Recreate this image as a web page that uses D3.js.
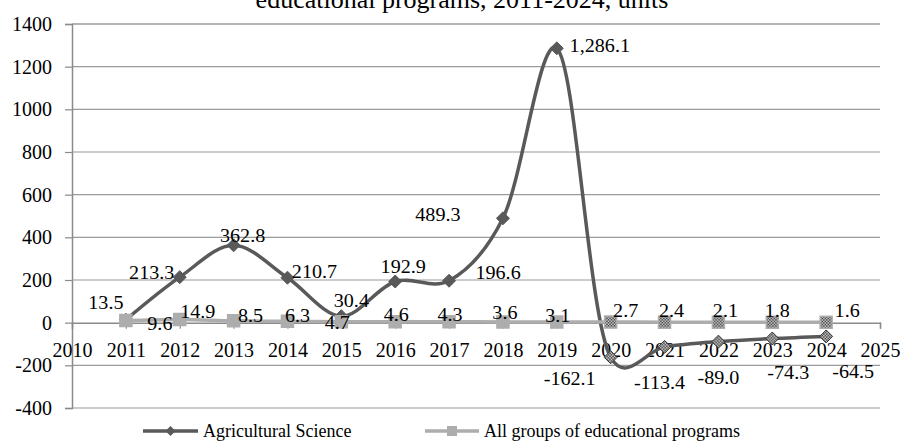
<!DOCTYPE html>
<html>
<head>
<meta charset="utf-8">
<script src="https://cdn.jsdelivr.net/npm/d3@7"></script>
<style>
  html, body { margin: 0; padding: 0; background: #fff; }
  svg { display: block; }
  svg text { font-family: "Liberation Serif", "Times New Roman", serif; }
</style>
</head>
<body>
<svg id="chart" width="901" height="441"></svg>
<script>
// Yearly growth figures, units
const years = [2011, 2012, 2013, 2014, 2015, 2016, 2017, 2018, 2019, 2020, 2021, 2022, 2023, 2024];
const agricultural = [13.5, 213.3, 362.8, 210.7, 30.4, 192.9, 196.6, 489.3, 1286.1, -162.1, -113.4, -89.0, -74.3, -64.5];
const allGroups = [9.6, 14.9, 8.5, 6.3, 4.7, 4.6, 4.3, 3.6, 3.1, 2.7, 2.4, 2.1, 1.8, 1.6];
const yTicks = [-400, -200, 0, 200, 400, 600, 800, 1000, 1200, 1400];
const xTicks = [2010, 2011, 2012, 2013, 2014, 2015, 2016, 2017, 2018, 2019, 2020, 2021, 2022, 2023, 2024, 2025];
const seriesNames = ["Agricultural Science", "All groups of educational programs"];
const titleText = "educational programs, 2011-2024, units";
const forecastFrom = 2020;

// Label placement (pixel offsets of each value label from its marker)
const agriLabelOffset = [[-20, -17], [-28, -5], [9, -10], [27, -6], [10, -16], [8, -15], [49, -8],
  [-65, -4], [43, -3], [-41, 21], [-5, 35], [0, 36], [16, 34], [27, 35]];
const allLabelOffset = [[34, 3], [18, -8], [17, -6], [10, -6], [-4, 1], [1, -7], [1, -7],
  [2, -10], [1, -7], [15, -12], [7, -12], [7, -12], [5, -12], [21, -12]];

const svg = d3.select("#chart");
const x = d3.scaleLinear().domain([2010, 2025]).range([72, 880]);
const y = d3.scaleLinear().domain([-400, 1400]).range([408, 24]);

const fmt = d3.formatLocale({decimal: ".", thousands: ",", grouping: [3], currency: ["", ""], minus: "-"}).format(",.1f");

// checkerboard fill for forecast markers
const defs = svg.append("defs");
const pat = defs.append("pattern").attr("id", "checker").attr("patternUnits", "userSpaceOnUse")
  .attr("width", 3).attr("height", 3);
pat.append("rect").attr("width", 3).attr("height", 3).attr("fill", "#fff");
pat.append("rect").attr("width", 1.5).attr("height", 1.5).attr("fill", "#111");
pat.append("rect").attr("x", 1.5).attr("y", 1.5).attr("width", 1.5).attr("height", 1.5).attr("fill", "#111");

// title (runs off the top edge)
svg.append("text").attr("x", 462).attr("y", 8).attr("text-anchor", "middle")
  .attr("font-size", 26).attr("fill", "#000").text(titleText);

// horizontal gridlines
svg.append("g").selectAll("line").data(yTicks.filter(d => d !== 0)).join("line")
  .attr("x1", 72).attr("x2", 880)
  .attr("y1", d => y(d)).attr("y2", d => y(d))
  .attr("stroke", d => d === 1400 ? "#b4b4b4" : "#9a9a9a")
  .attr("stroke-width", d => d === 1400 ? 2 : 1.2);

// value axis
const yAxis = svg.append("g").attr("transform", "translate(72,0)")
  .call(d3.axisLeft(y).tickValues(yTicks).tickSize(7).tickPadding(13).tickFormat(d => String(d)));
yAxis.attr("font-family", null);
yAxis.select(".domain").attr("stroke", "#8a8a8a").attr("stroke-width", 1.5);
yAxis.selectAll(".tick line").attr("stroke", "#8a8a8a").attr("stroke-width", 1.2);
yAxis.selectAll(".tick text").attr("font-size", 20).attr("fill", "#000");

// year axis along zero
const xAxis = svg.append("g").attr("transform", `translate(0,${y(0)})`)
  .call(d3.axisBottom(x).tickValues(xTicks).tickSize(6).tickPadding(14).tickFormat(d => String(d)));
xAxis.attr("font-family", null);
xAxis.select(".domain").attr("stroke", "#8a8a8a").attr("stroke-width", 1.5);
xAxis.selectAll(".tick line").attr("stroke", "#8a8a8a").attr("stroke-width", 1.2);
xAxis.selectAll(".tick text").attr("font-size", 20).attr("fill", "#000");

const line = d3.line().x(d => x(d[0])).y(d => y(d[1])).curve(d3.curveCatmullRom.alpha(0.2));

const diamond = r => `M0,${-r}L${r},0L0,${r}L${-r},0Z`;
const square = r => `M${-r},${-r}H${r}V${r}H${-r}Z`;

const agriColor = "#595959";
const allColor = "#adadad";

// Agricultural Science
const agriPts = years.map((yr, i) => [yr, agricultural[i]]);
svg.append("path").attr("d", line(agriPts)).attr("fill", "none")
  .attr("stroke", agriColor).attr("stroke-width", 3.5);
svg.append("g").selectAll("path").data(agriPts).join("path")
  .attr("transform", d => `translate(${x(d[0])},${y(d[1])})`)
  .attr("d", diamond(6.5))
  .attr("fill", d => d[0] >= forecastFrom ? "url(#checker)" : agriColor)
  .attr("stroke", d => d[0] >= forecastFrom ? "#333" : agriColor)
  .attr("stroke-width", 1);

// All groups of educational programs
const allPts = years.map((yr, i) => [yr, allGroups[i]]);
svg.append("path").attr("d", line(allPts)).attr("fill", "none")
  .attr("stroke", allColor).attr("stroke-width", 3.5);
svg.append("g").selectAll("path").data(allPts).join("path")
  .attr("transform", d => `translate(${x(d[0])},${y(d[1])})`)
  .attr("d", square(6))
  .attr("fill", d => d[0] >= forecastFrom ? "url(#checker)" : allColor)
  .attr("stroke", allColor)
  .attr("stroke-width", 1.5);

// value labels
const labelG = svg.append("g").attr("font-size", 19).attr("fill", "#000")
  .attr("text-anchor", "middle");
labelG.selectAll("text.agri").data(agriPts).join("text").attr("class", "agri")
  .attr("transform", (d, i) => `translate(${x(d[0]) + agriLabelOffset[i][0]},${y(d[1]) + agriLabelOffset[i][1]}) scale(1.06,1)`)
  .attr("dy", "0.35em").text(d => fmt(d[1]));
labelG.selectAll("text.all").data(allPts).join("text").attr("class", "all")
  .attr("transform", (d, i) => `translate(${x(d[0]) + allLabelOffset[i][0]},${y(d[1]) + allLabelOffset[i][1]}) scale(1.06,1)`)
  .attr("dy", "0.35em").text(d => fmt(d[1]));

// legend
const legend = svg.append("g").attr("font-size", 18).attr("fill", "#000");
const legendItems = [
  {name: seriesNames[0], color: agriColor, shape: diamond(5), x0: 143, x1: 198, text: 203},
  {name: seriesNames[1], color: allColor, shape: square(5), x0: 425, x1: 479, text: 484}
];
const ly = 431;
legendItems.forEach(it => {
  legend.append("line").attr("x1", it.x0).attr("x2", it.x1).attr("y1", ly).attr("y2", ly)
    .attr("stroke", it.color).attr("stroke-width", 3.5);
  legend.append("path").attr("transform", `translate(${(it.x0 + it.x1) / 2},${ly})`)
    .attr("d", it.shape).attr("fill", it.color);
  legend.append("text").attr("x", it.text).attr("y", ly).attr("dy", "0.35em").text(it.name);
});
</script>
</body>
</html>
